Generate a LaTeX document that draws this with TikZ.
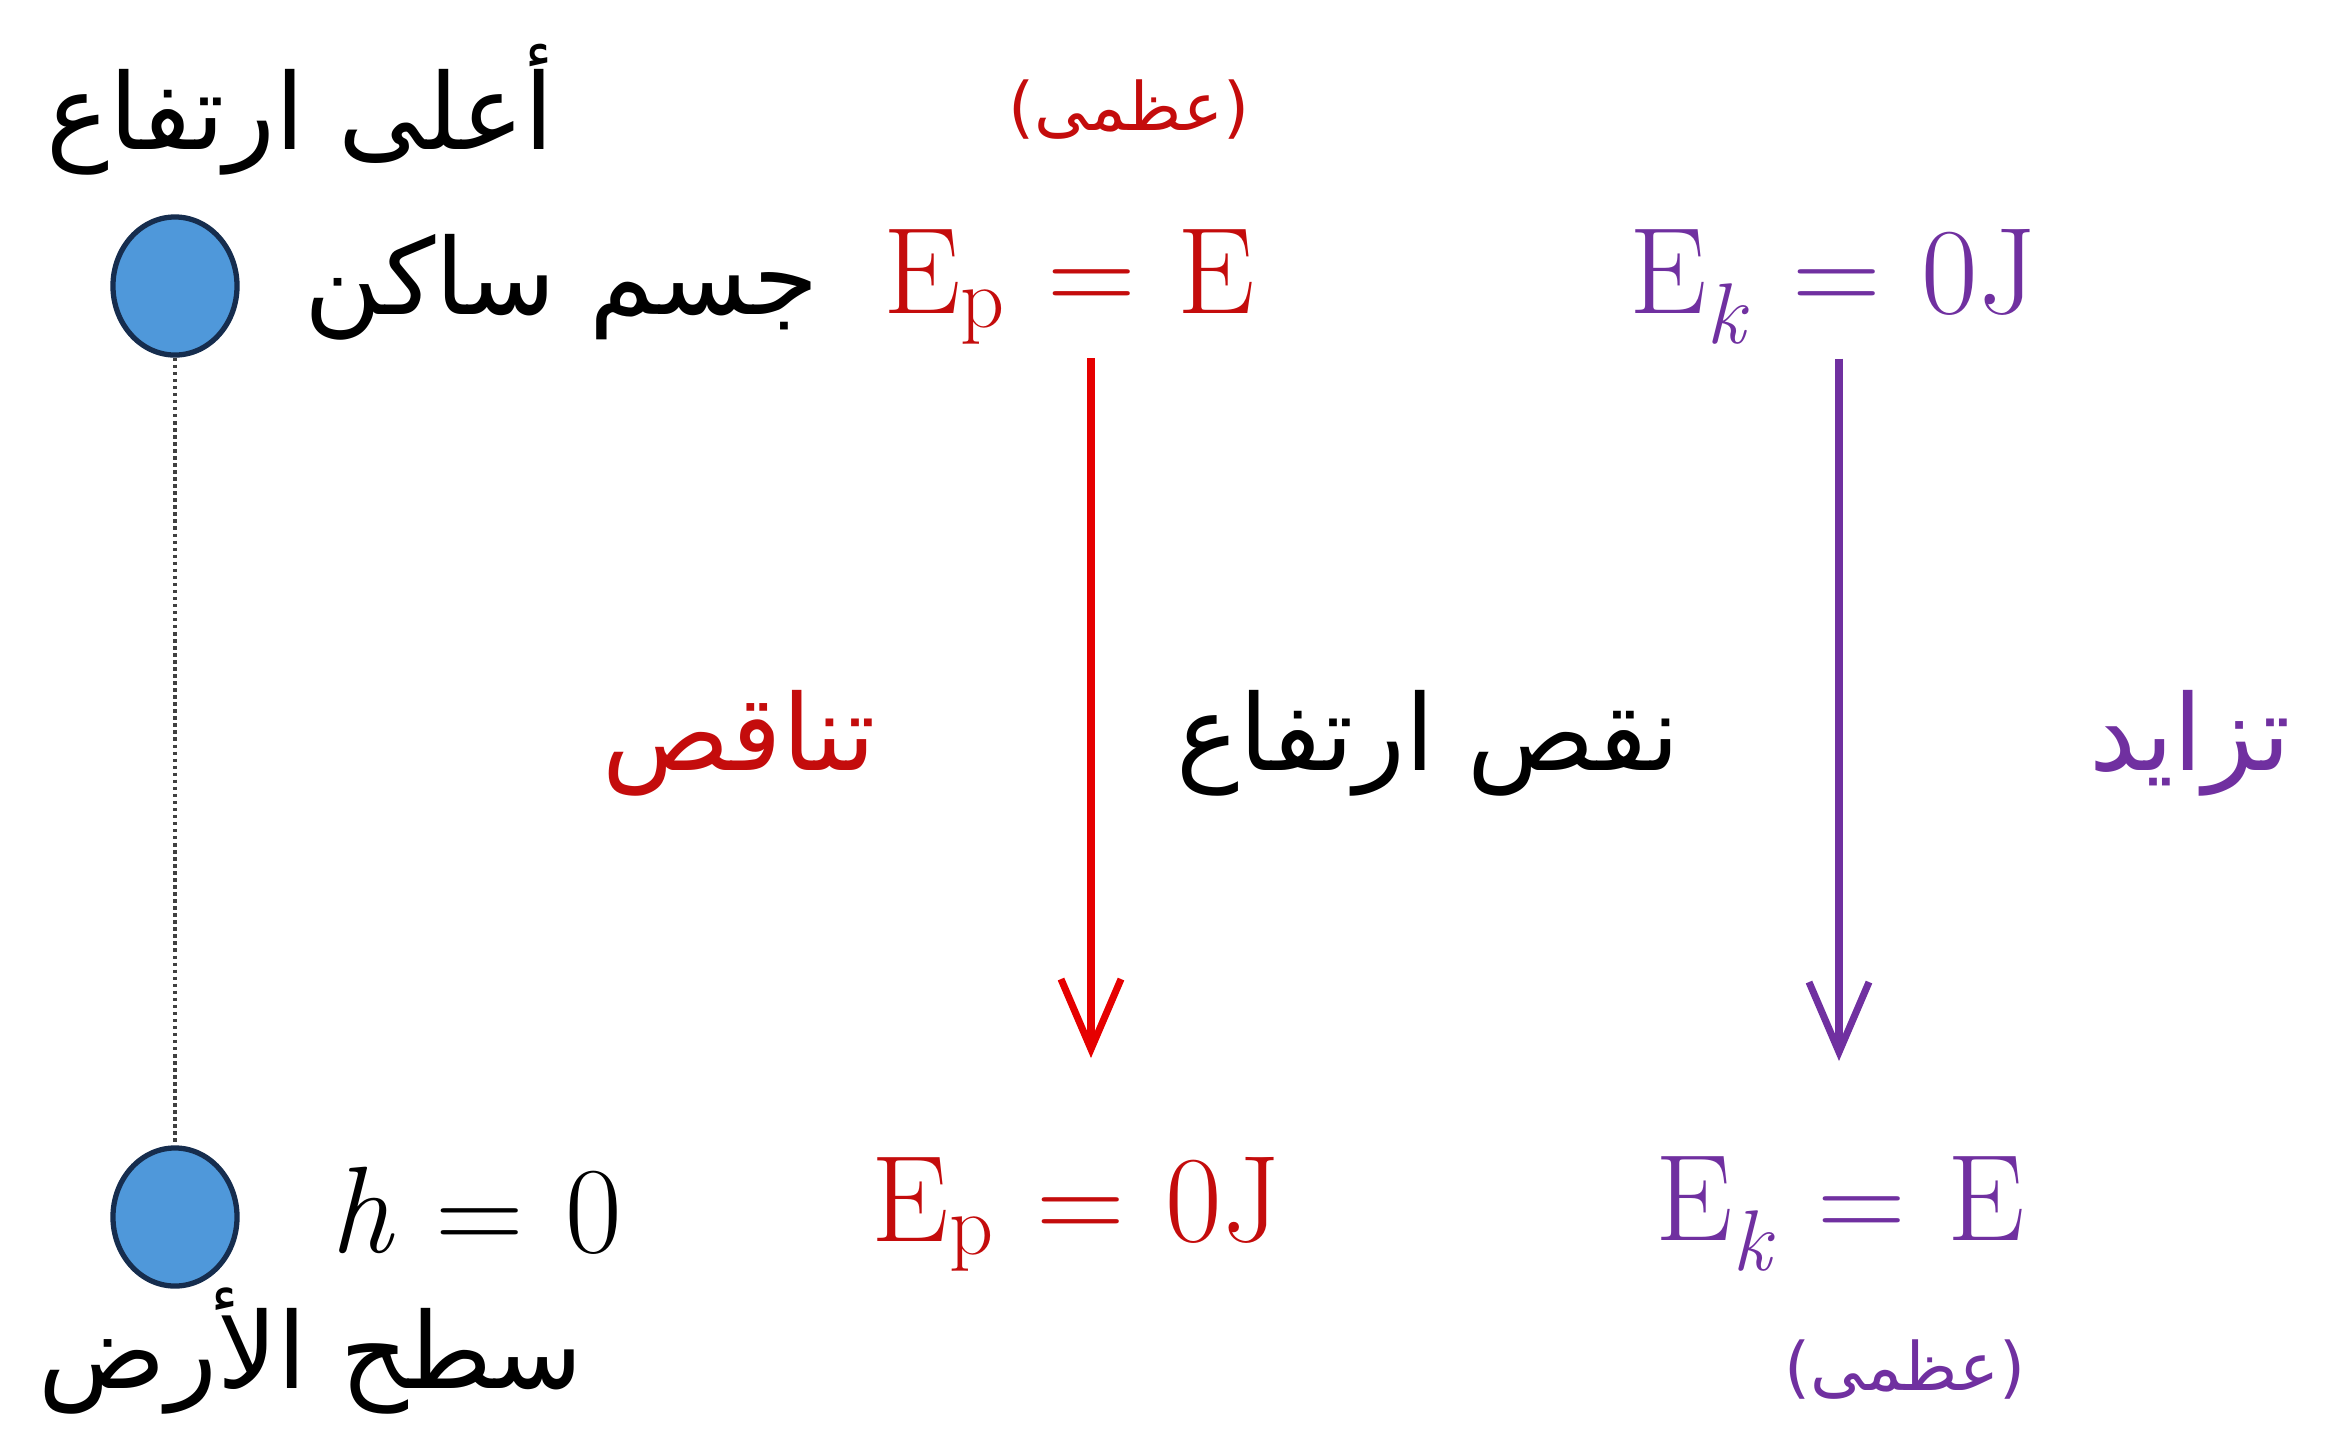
\documentclass[tikz,border=0pt]{standalone}
\usepackage{fontspec}
\newfontfamily\arabicfont[Script=Arabic]{DejaVu Sans}
\TeXXeTstate=1
\usetikzlibrary{positioning, shapes.geometric, arrows.meta}
\definecolor{ballblue}{RGB}{79,152,218}
\definecolor{balledge}{RGB}{22,45,78}
\definecolor{potred}{RGB}{196,12,12}
\definecolor{arrred}{RGB}{230,0,0}
\definecolor{kinpurple}{RGB}{112,48,160}
\newcommand{\enq}[3]{#1\textsubscript{#2}\,\,=\,\,#3}

\begin{document}
\begin{tikzpicture}[x=0.01cm, y=-0.01cm,
    ball/.style={ellipse, draw=balledge, line width=1.5pt, fill=ballblue,
                 minimum width=1.24cm, minimum height=1.38cm, inner sep=0pt},
    arlbl/.style={font=\arabicfont\fontsize{30}{36}\selectfont, inner sep=1pt},
    arsmall/.style={font=\arabicfont\fontsize{19}{22}\selectfont, inner sep=1pt},
    eqn/.style={font=\fontsize{35}{42}\selectfont, inner sep=1pt},
    arr/.style={-{Straight Barb[length=0.7cm, width=0.6cm]}, line width=2pt}]
  \useasboundingbox (0,0) rectangle (2344,1432);

  % ball at the top and on the ground
  \node[ball] (balltop) at (175,286) {};
  \node[ball] (ballbot) at (175,1217) {};
  \draw[densely dotted, line width=1pt, gray!50!black] (balltop) -- (ballbot);

  \node[arlbl] (highest) at (300,110) {\beginR أعلى ارتفاع\endR};
  \node[arlbl] (atrest) at (562,287) {\beginR جسم ساكن\endR};
  \node[eqn] (hzero) at (476,1211) {\textit{h}\,\,=\,\,0};
  \node[arlbl] (ground) at (311,1351) {\beginR سطح الأرض\endR};

  % potential energy
  \node[arsmall, text=potred] (maxp) at (1129,110) {\beginR (عظمى)\endR};
  \node[eqn, text=potred] (eptop) at (1069,287) {\enq{E}{p}{E}};
  \node[eqn, text=potred] (epbot) at (1076,1214) {\enq{E}{p}{0J}};
  \node[arlbl, text=potred] (decr) at (739,743) {\beginR تناقص\endR};

  % kinetic energy
  \node[eqn, text=kinpurple] (ektop) at (1833,287) {\enq{E}{\textit{k}}{0J}};
  \node[eqn, text=kinpurple] (ekbot) at (1840,1214) {\enq{E}{\textit{k}}{E}};
  \node[arsmall, text=kinpurple] (maxk) at (1905,1370) {\beginR (عظمى)\endR};
  \node[arlbl, text=kinpurple] (incr) at (2190,743) {\beginR تزايد\endR};

  \node[arlbl] (drop) at (1428,743) {\beginR نقص ارتفاع\endR};

  \coordinate (redtip) at (1091,1058);
  \coordinate (purtip) at (1839,1061);
  \draw[arr, color=arrred] ([yshift=-0.1cm]eptop.south -| redtip) -- (redtip);
  \draw[arr, color=kinpurple] ([yshift=-0.1cm]ektop.south -| purtip) -- (purtip);
\end{tikzpicture}
\end{document}
